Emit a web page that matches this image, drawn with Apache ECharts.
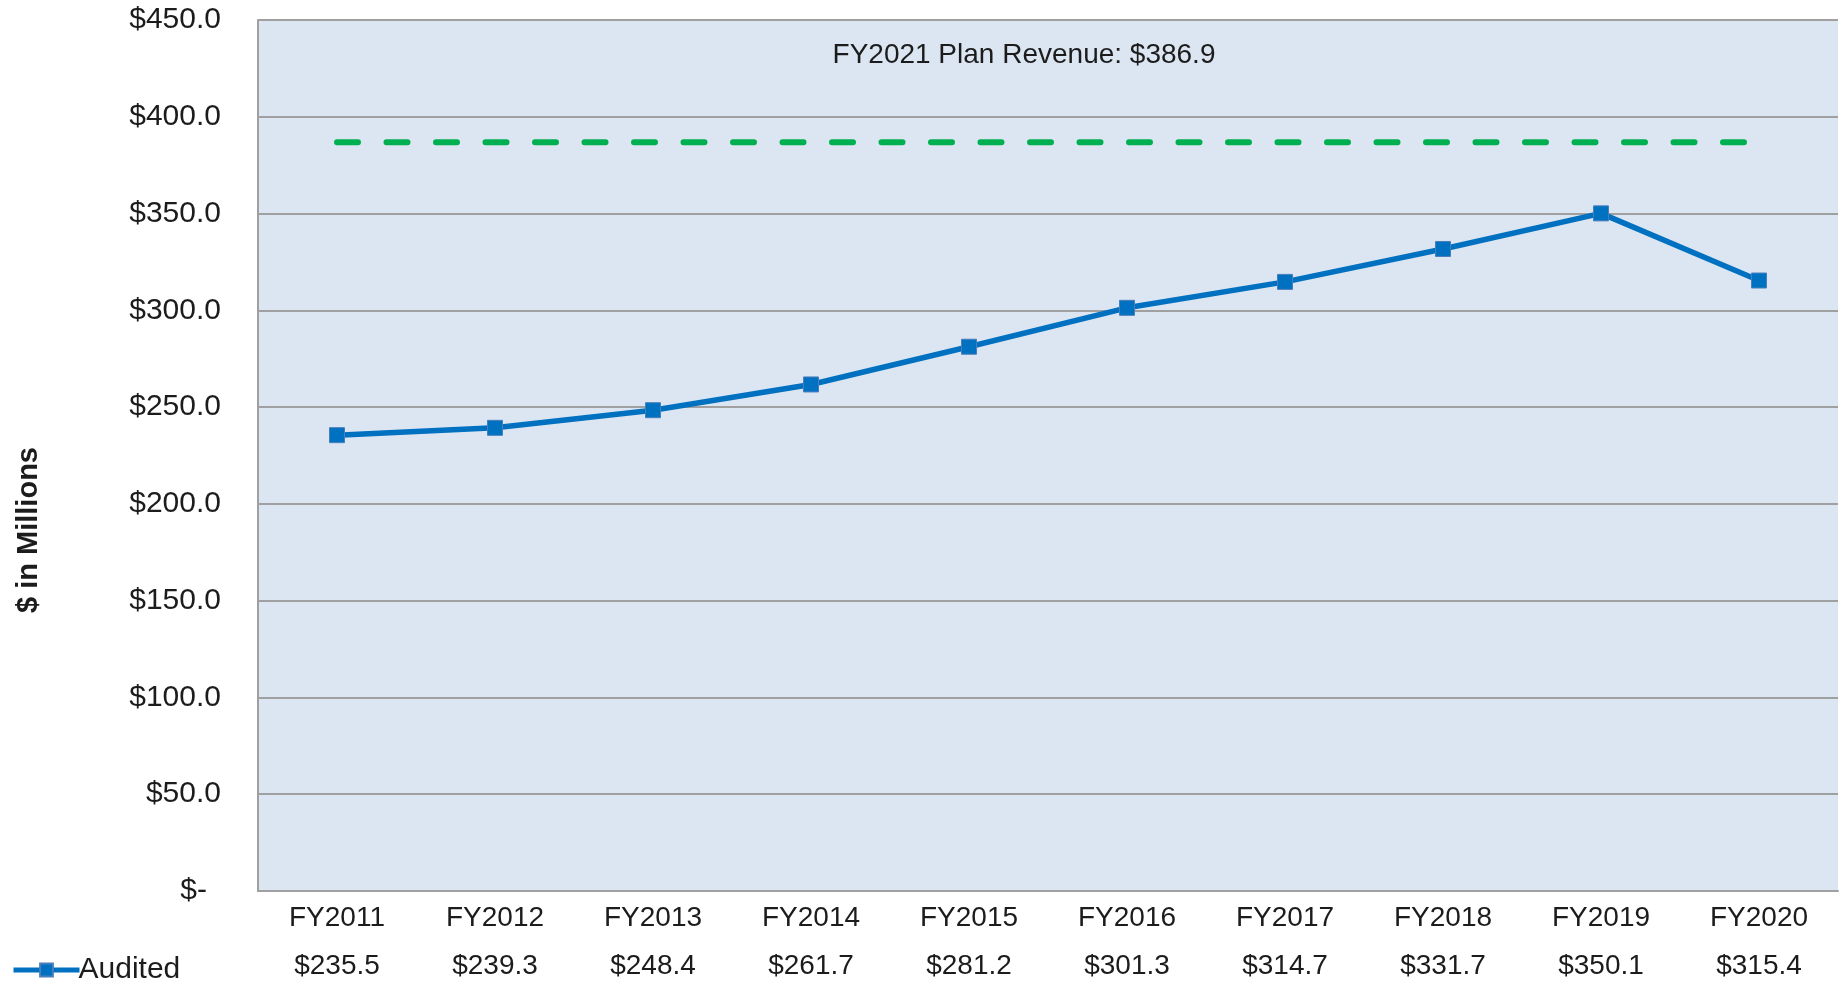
<!DOCTYPE html>
<html>
<head>
<meta charset="utf-8">
<title>Revenue</title>
<script src="https://cdn.jsdelivr.net/npm/echarts@6/dist/echarts.min.js"></script>
<style>
  html, body { margin: 0; padding: 0; background: #fff; }
  #chart { width: 1845px; height: 983px; }
</style>
</head>
<body>
<div id="chart"></div>
<script>
// Data
const years = ['FY2011', 'FY2012', 'FY2013', 'FY2014', 'FY2015', 'FY2016', 'FY2017', 'FY2018', 'FY2019', 'FY2020']
const audited = [235.5, 239.3, 248.4, 261.7, 281.2, 301.3, 314.7, 331.7, 350.1, 315.4]
const planRevenue = 386.9
const planLine = years.map(() => planRevenue)

const FONT = 'Liberation Sans, Arial, sans-serif'
const TEXT = '#1c1c1c'
const GRID_GRAY = '#a0a0a0'

const chart = echarts.init(document.getElementById('chart'))

chart.setOption({
  animation: false,
  textStyle: { fontFamily: FONT, color: TEXT },
  grid: {
    left: 258,
    right: 7,
    top: 20,
    bottom: 92,
    outerBoundsMode: 'none',
    show: true,
    backgroundColor: '#dce6f2',
    borderWidth: 0
  },
  legend: {
    data: ['Audited'],
    left: 6,
    top: 950,
    itemWidth: 66,
    itemHeight: 16,
    itemGap: 4,
    lineStyle: { width: 5 },
    textStyle: { fontSize: 30, color: TEXT, fontFamily: FONT, padding: [0, 0, 0, -6] }
  },
  graphic: [
    {
      type: 'text',
      x: 1024,
      y: 55,
      style: {
        text: 'FY2021 Plan Revenue: $' + planRevenue.toFixed(1),
        fontSize: 28,
        fontFamily: FONT,
        fill: TEXT,
        textAlign: 'center',
        textVerticalAlign: 'middle'
      }
    },
    {
      // y axis title (sits below the axis middle in the original)
      type: 'text',
      x: 29,
      y: 530,
      rotation: Math.PI / 2,
      style: {
        text: '$ in Millions',
        fontSize: 29,
        fontWeight: 'bold',
        fontFamily: FONT,
        fill: TEXT,
        textAlign: 'center',
        textVerticalAlign: 'middle'
      }
    }
  ],
  xAxis: {
    type: 'category',
    data: years,
    boundaryGap: true,
    axisLine: { show: true, lineStyle: { color: GRID_GRAY, width: 2 } },
    axisTick: { show: false },
    axisLabel: {
      interval: 0,
      margin: 3,
      fontSize: 28,
      lineHeight: 48,
      color: TEXT,
      fontFamily: FONT,
      formatter: (v, i) => v + '\n$' + audited[i].toFixed(1)
    }
  },
  yAxis: {
    type: 'value',
    min: 0,
    max: 450,
    interval: 50,
    axisLine: { show: true, lineStyle: { color: GRID_GRAY, width: 2 } },
    axisTick: { show: false },
    splitLine: { show: true, lineStyle: { color: GRID_GRAY, width: 2 } },
    axisLabel: {
      margin: 37,
      fontSize: 30,
      color: TEXT,
      fontFamily: FONT,
      formatter: (v) => v === 0 ? '{z|$-}' : '$' + v.toFixed(1),
      rich: {
        z: { fontSize: 30, color: TEXT, fontFamily: FONT, padding: [0, 14, 0, 0] }
      }
    }
  },
  series: [
    {
      name: 'Plan',
      type: 'line',
      data: planLine,
      symbol: 'none',
      lineStyle: { color: '#00b050', width: 6, type: [21, 28.5], cap: 'round' },
      z: 2
    },
    {
      name: 'Audited',
      type: 'line',
      data: audited,
      symbol: 'rect',
      symbolSize: 15,
      itemStyle: { color: '#0070c0', borderColor: '#4a7ebb', borderWidth: 1 },
      lineStyle: { color: '#0070c0', width: 5.5 },
      z: 3
    }
  ]
})
</script>
</body>
</html>
